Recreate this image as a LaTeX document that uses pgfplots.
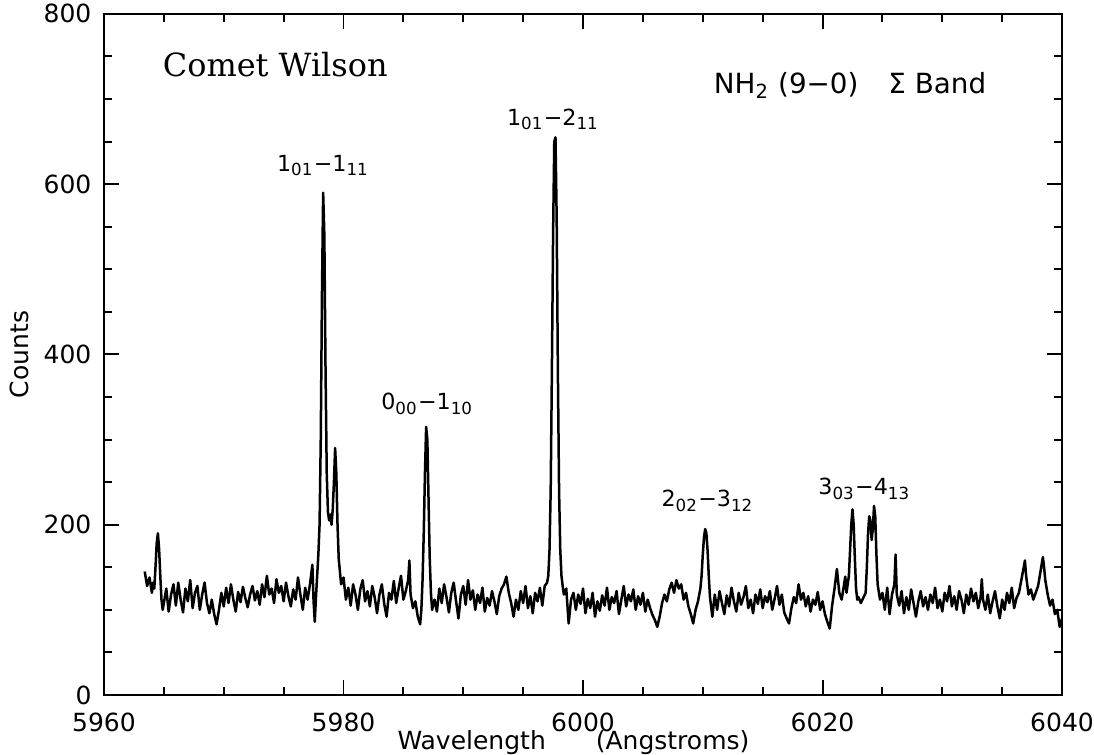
\documentclass[border=0pt]{standalone}
\usepackage{fontspec}
\setmainfont{DejaVu Sans}
\newfontfamily\serifcw{DejaVu Serif}
\usepackage{pgfplots}
\pgfplotsset{compat=1.18}

\begin{document}
\begin{tikzpicture}
\begin{axis}[
  at={(0,0)}, anchor=south west,
  scale only axis,
  width=344.9pt, height=245.2pt,
  xmin=5960, xmax=6040,
  ymin=0, ymax=800,
  xtick={5960,5980,...,6040},
  ytick={0,200,...,800},
  minor x tick num=3,
  minor y tick num=3,
  tick align=inside,
  major tick length=5.5pt,
  minor tick length=3pt,
  every tick/.style={black, line width=0.7pt},
  axis line style={line width=0.9pt},
  /pgf/number format/1000 sep={},
  /pgf/number format/assume math mode=true,
  tick label style={font=\fontsize{9}{10}\selectfont},
  xticklabel style={yshift=-3pt},
  yticklabel style={xshift=-1pt},
  xlabel={Wavelength\hspace{2em}(Angstroms)},
  ylabel={Counts},
  label style={font=\fontsize{9}{10}\selectfont},
  xlabel style={at={(axis description cs:0.49,-0.07)}, anchor=center},
  ylabel style={at={(axis description cs:-0.088,0.5)}, anchor=center},
]
\addplot[black, line width=0.9pt, line join=round] coordinates {
(5963.4,145)(5963.6,128)(5963.8,138)(5964.0,120)(5964.1,132)(5964.2,125)(5964.3,150)(5964.4,178)
(5964.5,190)(5964.6,172)(5964.7,140)(5964.8,112)(5964.9,100)(5965.0,108)
(5965.2,125)(5965.4,98)(5965.6,118)(5965.8,130)(5966.0,105)(5966.2,132)(5966.4,112)(5966.6,97)
(5966.8,125)(5967.0,110)(5967.2,135)(5967.4,102)(5967.6,120)(5967.8,128)(5968.0,100)(5968.2,118)
(5968.4,132)(5968.6,108)(5968.8,96)(5969.0,112)(5969.2,95)(5969.4,83)(5969.6,100)(5969.8,120)
(5970.0,104)(5970.2,126)(5970.4,108)(5970.6,130)(5970.8,112)(5971.0,98)(5971.2,121)(5971.4,109)
(5971.6,127)(5971.8,114)(5972.0,103)(5972.2,118)(5972.4,128)(5972.6,111)(5972.8,122)(5973.0,106)
(5973.2,130)(5973.4,115)(5973.6,140)(5973.8,118)(5974.0,125)(5974.2,108)(5974.4,136)(5974.6,120)
(5974.8,128)(5975.0,110)(5975.2,132)(5975.4,116)(5975.6,104)(5975.8,124)(5976.0,112)(5976.2,138)
(5976.4,118)(5976.6,100)(5976.8,126)(5977.0,112)(5977.2,130)(5977.4,153)(5977.5,110)(5977.6,86)
(5977.7,115)(5977.8,140)(5977.9,165)(5978.0,200)(5978.1,300)(5978.2,470)(5978.3,590)(5978.4,540)
(5978.5,380)(5978.6,260)(5978.7,215)(5978.8,205)(5978.9,212)(5979.0,200)(5979.1,218)(5979.2,250)
(5979.3,290)(5979.4,260)(5979.5,200)(5979.6,160)(5979.7,145)(5979.8,130)
(5980.0,138)(5980.2,112)(5980.4,126)(5980.6,105)(5980.8,130)(5981.0,118)(5981.2,100)(5981.4,124)
(5981.6,135)(5981.8,110)(5982.0,122)(5982.2,104)(5982.4,128)(5982.6,115)(5982.8,96)(5983.0,118)
(5983.2,130)(5983.4,107)(5983.6,92)(5983.8,120)(5984.0,112)(5984.2,134)(5984.4,108)(5984.6,125)
(5984.8,140)(5985.0,112)(5985.2,122)(5985.4,135)(5985.5,158)(5985.6,118)(5985.8,102)(5986.0,110)
(5986.2,92)(5986.4,83)(5986.5,100)(5986.6,135)(5986.7,190)(5986.8,260)(5986.9,315)(5987.0,300)
(5987.1,230)(5987.2,160)(5987.3,120)(5987.4,100)
(5987.6,112)(5987.8,98)(5988.0,125)(5988.2,108)(5988.4,130)(5988.6,115)(5988.8,97)(5989.0,120)
(5989.2,132)(5989.4,110)(5989.6,90)(5989.8,118)(5990.0,128)(5990.2,106)(5990.4,135)(5990.6,112)
(5990.8,123)(5991.0,100)(5991.2,118)(5991.4,108)(5991.6,126)(5991.8,98)(5992.0,114)(5992.2,105)
(5992.4,122)(5992.6,110)(5992.8,95)(5993.0,116)(5993.2,125)(5993.4,130)(5993.6,139)(5993.8,120)
(5994.0,108)(5994.2,92)(5994.4,112)(5994.6,100)(5994.8,122)(5995.0,108)(5995.2,128)(5995.4,102)
(5995.6,116)(5995.8,96)(5996.0,120)(5996.2,110)(5996.4,126)(5996.6,105)(5996.8,128)(5997.0,132)
(5997.1,140)(5997.2,170)(5997.3,240)(5997.4,380)(5997.5,540)(5997.6,650)(5997.7,655)(5997.8,560)
(5997.9,380)(5998.0,240)(5998.1,170)(5998.2,140)(5998.3,128)(5998.4,118)(5998.6,125)(5998.8,84)
(5999.0,112)(5999.2,120)(5999.4,100)(5999.6,118)(5999.8,107)(6000.0,125)(6000.2,96)(6000.4,113)
(6000.6,102)(6000.8,120)(6001.0,92)(6001.2,110)(6001.4,99)(6001.6,117)(6001.8,105)(6002.0,126)
(6002.2,100)(6002.4,115)(6002.6,108)(6002.8,122)(6003.0,95)(6003.2,112)(6003.4,128)(6003.6,104)
(6003.8,118)(6004.0,110)(6004.2,124)(6004.4,100)(6004.6,116)(6004.8,106)(6005.0,120)(6005.2,98)
(6005.4,112)(6005.6,102)(6005.8,94)(6006.0,88)(6006.2,80)(6006.4,92)(6006.6,108)(6006.8,118)
(6007.0,110)(6007.2,124)(6007.4,132)(6007.6,120)(6007.8,135)(6008.0,125)(6008.2,130)(6008.4,112)
(6008.6,120)(6008.8,104)(6009.0,95)(6009.2,84)(6009.4,100)(6009.6,110)(6009.8,125)(6009.9,140)
(6010.0,165)(6010.1,185)(6010.2,195)(6010.3,190)(6010.4,170)(6010.5,140)(6010.6,115)(6010.8,92)
(6011.0,118)(6011.2,100)(6011.4,122)(6011.6,108)(6011.8,95)(6012.0,117)(6012.2,104)(6012.4,126)
(6012.6,110)(6012.8,98)(6013.0,120)(6013.2,106)(6013.4,115)(6013.6,128)(6013.8,102)(6014.0,112)
(6014.2,96)(6014.4,118)(6014.6,107)(6014.8,124)(6015.0,102)(6015.2,116)(6015.4,109)(6015.6,122)
(6015.8,100)(6016.0,113)(6016.2,128)(6016.4,106)(6016.6,118)(6016.8,97)(6017.0,90)(6017.2,84)
(6017.4,102)(6017.6,115)(6017.8,108)(6018.0,130)(6018.2,112)(6018.4,120)(6018.6,104)(6018.8,116)
(6019.0,98)(6019.2,112)(6019.4,106)(6019.6,121)(6019.8,100)(6020.0,110)(6020.2,95)(6020.4,86)
(6020.6,78)(6020.8,105)(6021.0,125)(6021.2,148)(6021.4,120)(6021.6,112)(6021.8,130)(6021.9,139)
(6022.0,120)(6022.2,140)(6022.3,170)(6022.4,200)(6022.5,218)(6022.6,200)(6022.7,160)(6022.8,125)
(6022.9,112)(6023.0,115)(6023.2,108)(6023.4,114)(6023.6,120)(6023.7,150)(6023.8,190)(6023.9,210)
(6024.0,205)(6024.1,182)(6024.2,195)(6024.3,222)(6024.4,210)(6024.5,165)(6024.6,130)(6024.8,112)
(6025.0,120)(6025.2,100)(6025.4,126)(6025.6,95)(6025.8,118)(6026.0,130)(6026.1,165)(6026.2,118)
(6026.4,105)(6026.6,122)(6026.8,96)(6027.0,115)(6027.2,100)(6027.4,124)(6027.6,108)(6027.8,92)
(6028.0,110)(6028.2,122)(6028.4,104)(6028.6,115)(6028.8,100)(6029.0,118)(6029.2,108)(6029.4,126)
(6029.6,102)(6029.8,112)(6030.0,98)(6030.2,120)(6030.4,110)(6030.6,128)(6030.8,104)(6031.0,116)
(6031.2,100)(6031.4,122)(6031.6,112)(6031.8,96)(6032.0,118)(6032.2,106)(6032.4,125)(6032.6,110)
(6032.8,120)(6033.0,102)(6033.2,115)(6033.3,136)(6033.4,112)(6033.6,100)(6033.8,118)(6034.0,96)
(6034.2,110)(6034.4,122)(6034.6,104)(6034.8,90)(6035.0,112)(6035.2,100)(6035.4,120)(6035.6,108)
(6035.8,126)(6036.0,102)(6036.2,114)(6036.4,120)(6036.6,135)(6036.8,150)(6036.9,158)(6037.0,140)
(6037.2,118)(6037.4,124)(6037.6,112)(6037.8,120)(6038.0,128)(6038.2,145)(6038.4,162)(6038.5,150)
(6038.6,135)(6038.8,118)(6039.0,105)(6039.2,112)(6039.4,95)(6039.6,100)(6039.8,80)(6040.0,90)
};
\node[font=\fontsize{11.5}{13}\serifcw] at (axis cs:5974.3,740) {Comet Wilson};
\node[font=\fontsize{10}{12}\selectfont] at (axis cs:6022.3,716) {NH\textsubscript{2} (9−0)\hspace{10.8pt}Σ Band};
\begin{scope}[every node/.style={font=\fontsize{8}{10}\selectfont}]
\node at (axis cs:5978.3,622) {1\textsubscript{01}−1\textsubscript{11}};
\node at (axis cs:5997.5,676) {1\textsubscript{01}−2\textsubscript{11}};
\node at (axis cs:5987.0,342) {0\textsubscript{00}−1\textsubscript{10}};
\node at (axis cs:6010.4,228) {2\textsubscript{02}−3\textsubscript{12}};
\node at (axis cs:6023.5,242) {3\textsubscript{03}−4\textsubscript{13}};
\end{scope}
\end{axis}
\pgfresetboundingbox
\useasboundingbox (-37.44pt,-21.6pt) rectangle (356.4pt,250.2pt);
\end{tikzpicture}
\end{document}
